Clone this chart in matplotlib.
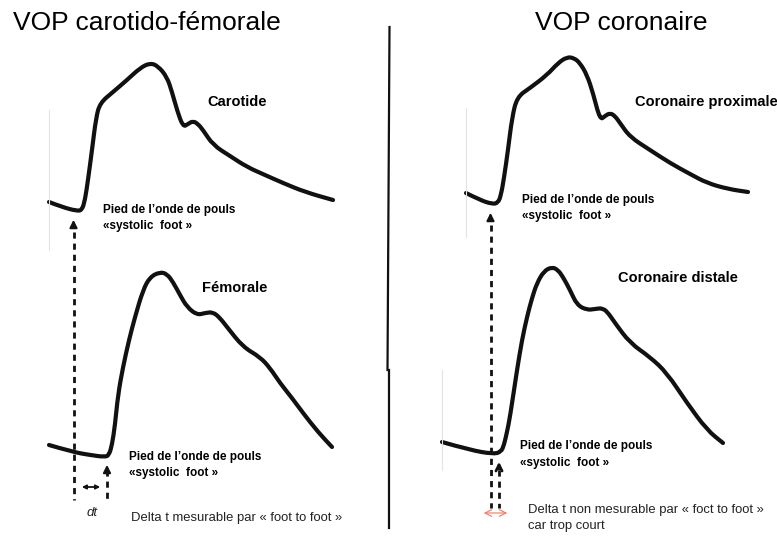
import matplotlib
matplotlib.use("Agg")
import matplotlib.pyplot as plt
from matplotlib.path import Path
from matplotlib.patches import PathPatch

# traced waveforms (pixel coordinates of the original drawing)
carotide_x = [49, 62, 77, 82, 85, 88, 92, 96, 100, 113, 127, 140, 150, 158, 167, 172, 177, 183, 188, 193, 198, 203, 213, 230, 247, 265, 283, 305, 333]
carotide_y = [202, 207, 211, 210, 200, 180, 150, 118, 103, 92, 80, 68, 63, 66, 77, 92, 110, 127, 124, 121, 124, 130, 145, 156, 167, 175, 183, 192, 200]

femorale_x = [49, 73, 90, 105, 109, 112, 115, 118, 123, 129, 135, 143, 150, 160, 167, 173, 180, 187, 197, 205, 213, 220, 227, 243, 260, 270, 280, 292, 303, 318, 332]
femorale_y = [445, 452, 455, 457, 455, 445, 425, 395, 367, 340, 317, 290, 277, 272, 274, 282, 295, 307, 315, 313, 312, 318, 327, 347, 357, 368, 383, 398, 413, 432, 447]

prox_x = [466, 480, 492, 498, 501, 504, 508, 512, 517, 530, 547, 558, 567, 574, 580, 587, 593, 600, 605, 610, 615, 620, 630, 650, 670, 690, 707, 728, 748]
prox_y = [193, 200, 204, 203, 195, 178, 150, 118, 97, 88, 75, 63, 57, 58, 63, 75, 93, 120, 116, 113, 116, 123, 137, 150, 163, 174, 183, 189, 192]

distale_x = [442, 470, 493, 501, 504, 507, 510, 517, 522, 527, 532, 537, 544, 552, 558, 563, 570, 577, 587, 595, 603, 609, 615, 630, 650, 667, 687, 707, 723]
distale_y = [442, 450, 454, 452, 445, 432, 417, 370, 340, 317, 298, 283, 271, 267, 270, 277, 290, 305, 310, 309, 308, 314, 323, 343, 357, 373, 403, 430, 443]

titles = ["VOP carotido-fémorale", "VOP coronaire"]
curve_names = ["Carotide", "Fémorale", "Coronaire proximale", "Coronaire distale"]
foot_label = "Pied de l’onde de pouls\n«systolic  foot »"
note_left = "Delta t mesurable par « foot to foot »"
note_right = "Delta t non mesurable par « foct to foot »\ncar trop court"

plt.rcParams["font.family"] = ["Liberation Sans", "DejaVu Sans"]


def smooth_path(xs, ys):
    # quadratic pieces through the midpoints, traced points act as control points
    pts = list(zip(xs, ys))
    verts = [pts[0]]
    codes = [Path.MOVETO]
    for i in range(1, len(pts) - 1):
        mid = ((pts[i][0] + pts[i + 1][0]) / 2, (pts[i][1] + pts[i + 1][1]) / 2)
        verts += [pts[i], mid]
        codes += [Path.CURVE3, Path.CURVE3]
    verts.append(pts[-1])
    codes.append(Path.LINETO)
    return Path(verts, codes)


fig = plt.figure(figsize=(7.77, 5.43), dpi=100)
ax = fig.add_axes([0, 0, 1, 1])
ax.set_xlim(0, 777)
ax.set_ylim(543, 0)
ax.axis("off")

# faint edges left over from the cropped source images
for x, y0, y1 in [(49, 110, 250), (466, 108, 237), (442, 370, 470)]:
    ax.plot([x, x], [y0, y1], color="#e4e4e4", lw=0.8)

for xs, ys in [(carotide_x, carotide_y), (femorale_x, femorale_y),
               (prox_x, prox_y), (distale_x, distale_y)]:
    ax.add_patch(PathPatch(smooth_path(xs, ys), fill=False, edgecolor="#111111",
                           lw=3, joinstyle="round", capstyle="round"))

# divider
ax.plot([389.5, 387.5], [27, 370], color="#111111", lw=1.6)
ax.plot([388.5, 388.5], [370, 528], color="#111111", lw=1.6)

ax.text(13, 23, titles[0], fontsize=19, va="center", ha="left")
ax.text(535, 23, titles[1], fontsize=19, va="center", ha="left")

ax.text(207, 102, curve_names[0], fontsize=10.5, fontweight="bold", va="center")
ax.text(202, 288, curve_names[1], fontsize=10.5, fontweight="bold", va="center")
ax.text(635, 102, curve_names[2], fontsize=10.5, fontweight="bold", va="center")
ax.text(618, 278, curve_names[3], fontsize=10.5, fontweight="bold", va="center")

for x, y in [(103, 218), (129, 465), (522, 208), (520, 454.5)]:
    ax.text(x, y, foot_label, fontsize=8.5, fontweight="bold", va="center", linespacing=1.45)

ax.text(92, 513, "dt", fontsize=9.5, style="italic", color="#222222", va="center", ha="center")
ax.text(131, 518, note_left, fontsize=9.4, color="#222222", va="center")
ax.text(528, 518, note_right, fontsize=9.4, color="#222222", va="center", linespacing=1.35)

dash = dict(color="#111111", lw=2, dashes=(2.2, 1.8))
# left panel: carotid foot down to femoral level, femoral foot
ax.plot([73.5, 73.5], [232, 500], **dash)
ax.plot([107, 107], [470, 500], **dash)
ax.annotate("", xy=(73.5, 217), xytext=(73.5, 229),
            arrowprops=dict(arrowstyle="-|>", color="#111111", lw=1.5, mutation_scale=11))
ax.annotate("", xy=(107, 462), xytext=(107, 473),
            arrowprops=dict(arrowstyle="-|>", color="#111111", lw=1.5, mutation_scale=11))
ax.annotate("", xy=(79, 487), xytext=(103, 487),
            arrowprops=dict(arrowstyle="<|-|>", color="#111111", lw=1.3, mutation_scale=6))

# right panel
ax.plot([490.5, 490.5], [225, 508], **dash)
ax.plot([499, 499], [470, 508], **dash)
ax.annotate("", xy=(490.5, 210), xytext=(490.5, 222),
            arrowprops=dict(arrowstyle="-|>", color="#111111", lw=1.5, mutation_scale=11))
ax.annotate("", xy=(499, 459), xytext=(499, 472),
            arrowprops=dict(arrowstyle="->", color="#111111", lw=2, mutation_scale=11))
ax.annotate("", xy=(481, 513), xytext=(510, 513),
            arrowprops=dict(arrowstyle="<->", color="#f07860", lw=0.8, mutation_scale=12))

fig.savefig("out.png", dpi=100, facecolor="white")
